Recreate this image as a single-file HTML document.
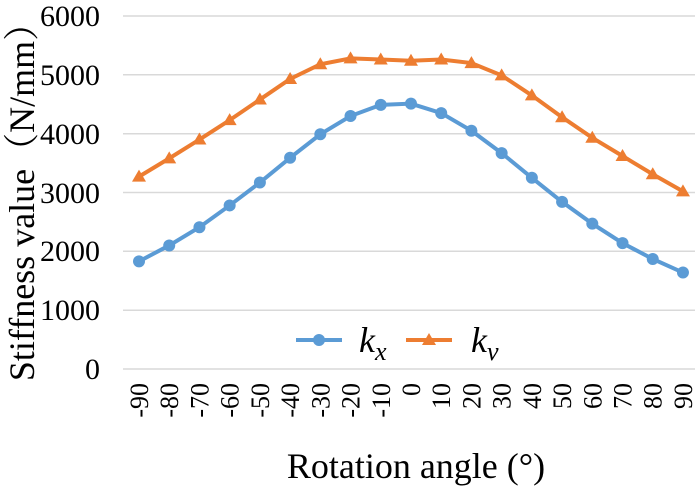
<!DOCTYPE html>
<html><head><style>body{margin:0;background:#fff} svg text{font-family:"Liberation Serif","Noto Serif CJK SC",serif}</style></head><body>
<svg width="700" height="492" xmlns="http://www.w3.org/2000/svg">
<g stroke="#d9d9d9" stroke-width="1.5">
<line x1="123" x2="695" y1="16" y2="16"/><line x1="123" x2="695" y1="74.8" y2="74.8"/>
<line x1="123" x2="695" y1="133.7" y2="133.7"/><line x1="123" x2="695" y1="192.5" y2="192.5"/>
<line x1="123" x2="695" y1="251.3" y2="251.3"/><line x1="123" x2="695" y1="310.2" y2="310.2"/>
<line x1="123" x2="695" y1="369" y2="369"/>
</g>
<g font-size="30" text-anchor="end" fill="#000">
<text x="100" y="26">6000</text><text x="100" y="85">5000</text><text x="100" y="144">4000</text>
<text x="100" y="203">3000</text><text x="100" y="261">2000</text><text x="100" y="320">1000</text><text x="100" y="379">0</text>
</g>
<g id="xl" font-size="26" text-anchor="end"></g>
<text transform="translate(34,193) rotate(-90)" font-size="36" text-anchor="middle">Stiffness value（N/mm）</text>
<text x="416" y="478" font-size="36" text-anchor="middle">Rotation angle (°)</text>
<polyline id="kx" fill="none" stroke="#5b9bd5" stroke-width="4"/>
<polyline id="ky" fill="none" stroke="#ed7d31" stroke-width="4"/>
<g id="m"></g>
<line x1="296" x2="342" y1="340" y2="340" stroke="#5b9bd5" stroke-width="4"/>
<circle cx="319" cy="340" r="6" fill="#5b9bd5"/>
<text x="359" y="352" font-size="36" font-style="italic">k<tspan font-size="26" dy="8">x</tspan></text>
<line x1="406" x2="452" y1="340" y2="340" stroke="#ed7d31" stroke-width="4"/>
<polygon points="429,333 436,345 422,345" fill="#ed7d31"/>
<text x="471" y="352" font-size="36" font-style="italic">k<tspan font-size="26" dy="8">v</tspan></text>
</svg>
<script>
var kx=[1830,2100,2410,2780,3170,3590,3990,4300,4490,4510,4350,4050,3670,3250,2840,2470,2140,1870,1640];
var ky=[3270,3580,3900,4230,4580,4930,5180,5280,5260,5240,5260,5200,4990,4650,4280,3930,3620,3310,3020];
var NS="http://www.w3.org/2000/svg";
function X(i){return 139+i*30.22}function Y(v){return 369-v*353/6000}
var a=[],b=[],m=document.getElementById('m'),xl=document.getElementById('xl');
for(var i=0;i<19;i++){a.push(X(i)+','+Y(kx[i]));b.push(X(i)+','+Y(ky[i]));
var c=document.createElementNS(NS,'circle');c.setAttribute('cx',X(i));c.setAttribute('cy',Y(kx[i]));c.setAttribute('r',6);c.setAttribute('fill','#5b9bd5');m.appendChild(c);
var x=X(i),y=Y(ky[i]);var p=document.createElementNS(NS,'polygon');p.setAttribute('points',x+','+(y-7)+' '+(x+7)+','+(y+5)+' '+(x-7)+','+(y+5));p.setAttribute('fill','#ed7d31');m.appendChild(p);
var t=document.createElementNS(NS,'text');t.setAttribute('transform','translate('+(x+9)+',383) rotate(-90)');t.textContent=(-90+i*10);xl.appendChild(t);}
document.getElementById('kx').setAttribute('points',a.join(' '));
document.getElementById('ky').setAttribute('points',b.join(' '));
</script>
</body></html>
